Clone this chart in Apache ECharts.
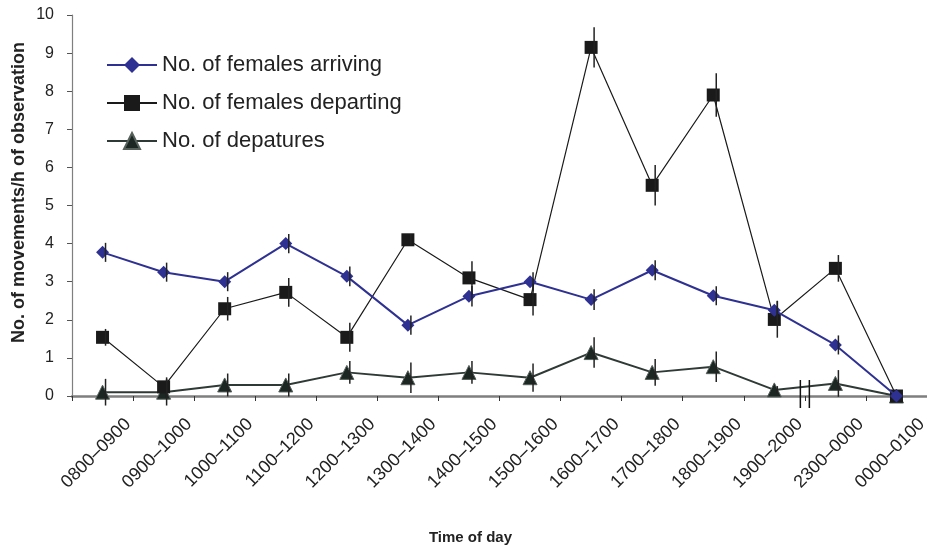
<!DOCTYPE html>
<html>
<head>
<meta charset="utf-8">
<script src="https://cdn.jsdelivr.net/npm/echarts@6/dist/echarts.min.js"></script>
<style>
  html, body { margin: 0; padding: 0; background: #fff; }
  #main { width: 927px; height: 558px; }
</style>
</head>
<body>
<div id="main"></div>
<script>
var chartDom = document.getElementById('main');
var myChart = echarts.init(chartDom);
var option;

const FONT = '"Liberation Sans", Arial, sans-serif';
const blue = '#2e3192';
const black = '#1a1a1a';
const dark = '#2f3a36';

// time slots on the x axis
const hours = ['0800–0900', '0900–1000', '1000–1100', '1100–1200', '1200–1300', '1300–1400',
  '1400–1500', '1500–1600', '1600–1700', '1700–1800', '1800–1900', '1900–2000',
  '2300–0000', '0000–0100'];

const arriving = [3.77, 3.25, 3.0, 4.0, 3.14, 1.86, 2.62, 3.0, 2.53, 3.3, 2.63, 2.25, 1.34, 0];
const arrivingErr = [0.25, 0.25, 0.25, 0.25, 0.26, 0.25, 0.27, 0.25, 0.27, 0.26, 0.25, 0.25, 0.25, 0];

const departing = [1.54, 0.24, 2.29, 2.72, 1.54, 4.1, 3.1, 2.53, 9.15, 5.53, 7.9, 2.01, 3.35, 0];
const departingErr = [0.22, 0.25, 0.31, 0.38, 0.38, 0.15, 0.44, 0.42, 0.53, 0.53, 0.57, 0.48, 0.35, 0];

const departures = [0.1, 0.1, 0.29, 0.29, 0.62, 0.48, 0.62, 0.48, 1.14, 0.62, 0.77, 0.16, 0.33, 0];
const departuresErr = [0.35, 0.35, 0.3, 0.3, 0.3, 0.4, 0.3, 0.37, 0.4, 0.35, 0.4, 0.1, 0.35, 0];

const breakAfter = 11; // axis break between 1900–2000 and 2300–0000

function errorSeries(name, values, errs) {
  return {
    name: name + ' err',
    type: 'custom',
    z: 5,
    silent: true,
    data: values.map((v, i) => [i, v - errs[i], v + errs[i]]),
    renderItem: function (params, api) {
      const lo = api.coord([api.value(0), api.value(1)]);
      const hi = api.coord([api.value(0), api.value(2)]);
      return {
        type: 'line',
        shape: { x1: lo[0] + 3, y1: lo[1], x2: hi[0] + 3, y2: hi[1] },
        style: { stroke: '#222', lineWidth: 1.5 }
      };
    }
  };
}

option = {
  animation: false,
  textStyle: { fontFamily: FONT },
  legend: {
    orient: 'vertical',
    left: 101,
    top: 49,
    itemWidth: 50,
    itemHeight: 20,
    itemGap: 16,
    textStyle: { fontSize: 22, color: '#222', fontFamily: FONT },
    data: ['No. of females arriving', 'No. of females departing', 'No. of depatures']
  },
  grid: { left: 72, right: 0, top: 15, bottom: 162, outerBoundsMode: 'none', containLabel: false },
  xAxis: {
    type: 'category',
    data: hours,
    boundaryGap: true,
    name: 'Time of day',
    nameLocation: 'middle',
    nameGap: 134,
    nameMoveOverlap: false,
    nameTextStyle: { fontSize: 15, fontWeight: 'bold', color: '#222', fontFamily: FONT, padding: [0, 58, 0, 0] },
    axisLine: { lineStyle: { color: '#7f7f7f', width: 2.5 } },
    axisTick: { show: true, inside: false, length: 5, lineStyle: { color: '#333', width: 1 } },
    axisLabel: {
      interval: 0,
      rotate: 45,
      margin: 0,
      fontSize: 18,
      color: '#222',
      fontFamily: FONT,
      verticalAlign: 'top',
      lineHeight: 72
    },
    splitLine: { show: false }
  },
  yAxis: {
    type: 'value',
    min: 0,
    max: 10,
    interval: 1,
    name: 'No. of movements/h of observation',
    nameLocation: 'middle',
    nameGap: 44,
    nameMoveOverlap: false,
    nameTextStyle: { fontSize: 18, fontWeight: 'bold', color: '#222', fontFamily: FONT, padding: [0, 0, 0, 26] },
    axisLine: { show: true, lineStyle: { color: '#7f7f7f', width: 1.2 } },
    axisTick: { show: true, inside: false, length: 5, lineStyle: { color: '#555' } },
    axisLabel: { fontSize: 16, color: '#222', margin: 18, fontFamily: FONT },
    splitLine: { show: false }
  },
  series: [
    {
      name: 'No. of females arriving',
      type: 'line',
      data: arriving,
      symbol: 'diamond',
      symbolSize: 13,
      z: 4,
      lineStyle: { color: blue, width: 2 },
      itemStyle: { color: blue }
    },
    {
      name: 'No. of females departing',
      type: 'line',
      data: departing,
      symbol: 'rect',
      symbolSize: 13,
      z: 3,
      lineStyle: { color: black, width: 1.2 },
      itemStyle: { color: black }
    },
    {
      name: 'No. of depatures',
      type: 'line',
      data: departures,
      symbol: 'triangle',
      symbolSize: 14,
      z: 2,
      lineStyle: { color: dark, width: 2 },
      itemStyle: { color: '#1c2622', borderColor: '#55605b', borderWidth: 1 }
    },
    errorSeries('arriving', arriving, arrivingErr),
    errorSeries('departing', departing, departingErr),
    errorSeries('departures', departures, departuresErr)
  ]
};

option && myChart.setOption(option);

// axis break marks "//" between 1900–2000 and 2300–0000
const xa = myChart.convertToPixel({ xAxisIndex: 0 }, breakAfter);
const xb = myChart.convertToPixel({ xAxisIndex: 0 }, breakAfter + 1);
const bx = (xa + xb) / 2;
const by = myChart.convertToPixel({ yAxisIndex: 0 }, 0);
myChart.setOption({
  graphic: [-4.5, 4.5].map(dx => ({
    type: 'line',
    z: 10,
    shape: { x1: bx + dx, y1: by - 16, x2: bx + dx, y2: by + 12 },
    style: { stroke: '#111', lineWidth: 1.5 }
  }))
});
</script>
</body>
</html>
